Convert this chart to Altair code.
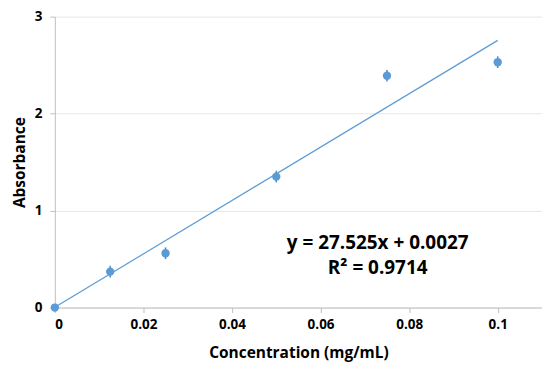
import altair as alt
import pandas as pd

conc = [0.0, 0.0125, 0.025, 0.05, 0.075, 0.1]
absorb = [0.0, 0.37, 0.56, 1.35, 2.39, 2.53]
err = [0.02, 0.06, 0.06, 0.06, 0.06, 0.06]
slope = 27.525
intercept = 0.0027
trend_x = [0.0, 0.1]
eq_lines = ["y = 27.525x + 0.0027", "R² = 0.9714"]

df = pd.DataFrame({"x": conc, "y": absorb, "lo": [a - e for a, e in zip(absorb, err)],
                   "hi": [a + e for a, e in zip(absorb, err)]})
tl = pd.DataFrame({"x": trend_x})
txt = pd.DataFrame({"t": eq_lines, "x": [0.0729, 0.0729], "y": [0.669, 0.405]})

blue = "#5B9BD5"
font = "Open Sans"

xs = alt.Scale(domain=[0, 0.11], nice=False)
ys = alt.Scale(domain=[0, 3], nice=False)

xax = alt.Axis(values=[0, 0.02, 0.04, 0.06, 0.08, 0.1], labelExpr="format(datum.value, '~g')",
               title="Concentration (mg/mL)", grid=False, domainColor="#BFBFBF", tickColor="#BFBFBF",
               labelFont=font, labelFontWeight="bold", labelFontSize=13.5, labelColor="black",
               titleFont=font, titleFontWeight="bold", titleFontSize=15.5, titleColor="black",
               labelPadding=5, titlePadding=15, tickSize=5)
yax = alt.Axis(values=[0, 1, 2, 3], labelExpr="format(datum.value, '~g')", title="Absorbance",
               grid=True, gridColor="#E6E6E6",
               domainColor="#BFBFBF", tickColor="#BFBFBF",
               labelFont=font, labelFontWeight="bold", labelFontSize=13.5, labelColor="black",
               titleFont=font, titleFontWeight="bold", titleFontSize=15.5, titleColor="black",
               labelPadding=8, titlePadding=7, tickSize=5)

line = alt.Chart(tl).transform_calculate(y=f"{slope}*datum.x + {intercept}").mark_line(
    color=blue, strokeWidth=1.2).encode(x=alt.X("x:Q", scale=xs, axis=xax), y=alt.Y("y:Q", scale=ys, axis=yax))

bars = alt.Chart(df).mark_rule(color="#4A86C5", strokeWidth=1.5).encode(
    x=alt.X("x:Q", scale=xs), y=alt.Y("lo:Q", scale=ys), y2="hi:Q")

pts = alt.Chart(df).mark_circle(color=blue, size=70, opacity=1).encode(
    x=alt.X("x:Q", scale=xs), y=alt.Y("y:Q", scale=ys))

text = alt.Chart(txt).mark_text(font=font, fontWeight="bold", fontSize=19, color="black").encode(
    x=alt.X("x:Q", scale=xs), y=alt.Y("y:Q", scale=ys), text="t:N")

chart = (line + bars + pts + text).properties(
    width=489, height=292, autosize="none",
    padding={"left": 47, "top": 8, "right": 0, "bottom": 56},
).configure_view(stroke=None)

chart.save("out.html", embed_options={"renderer": "svg", "actions": False})
